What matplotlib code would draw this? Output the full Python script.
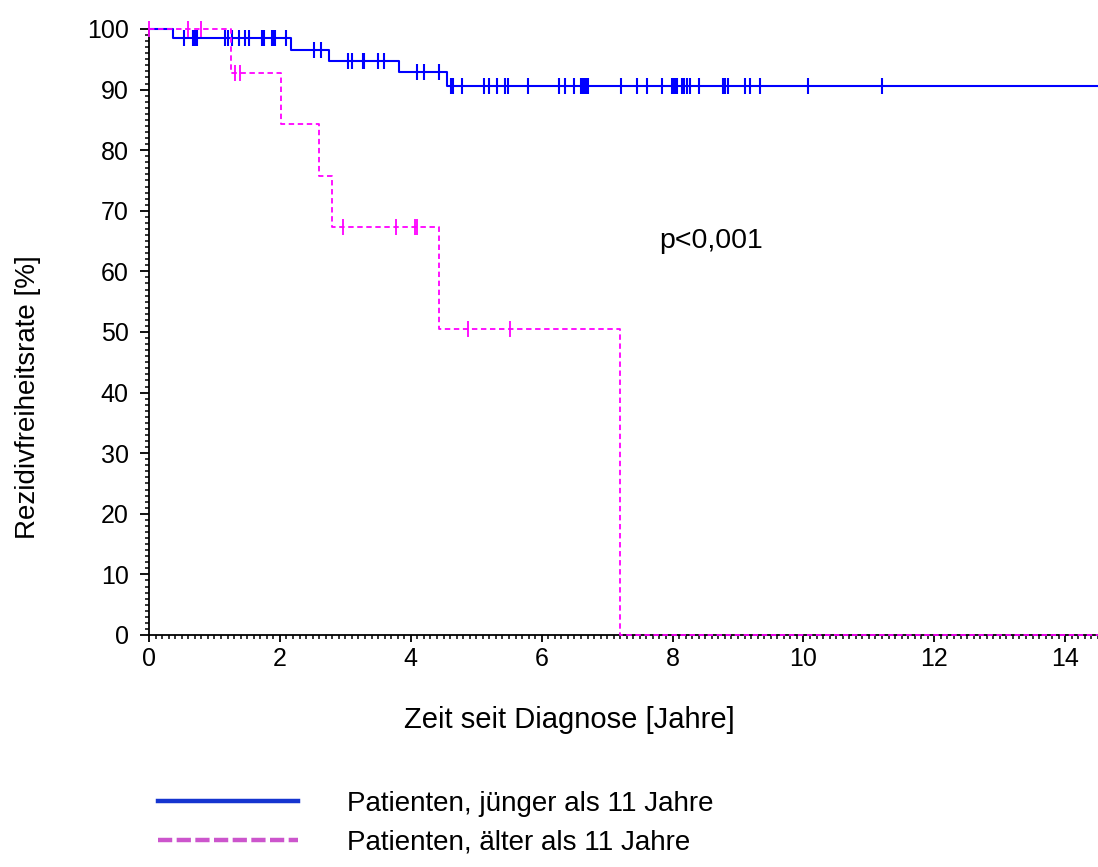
import numpy as np
import matplotlib
matplotlib.use("Agg")
import matplotlib.pyplot as plt
from matplotlib.lines import Line2D
from matplotlib.ticker import MultipleLocator

plt.rcParams['font.family'] = ['Liberation Sans', 'DejaVu Sans']

# Kaplan-Meier: Rezidivfreiheit nach Altersgruppe
young_times = [0.0, 0.36, 2.17, 2.75, 3.82, 4.55]
young_surv = [100.0, 98.5, 96.6, 94.7, 92.9, 90.6]
young_censored = [0.54, 0.67, 0.70, 0.73, 1.16, 1.20, 1.27, 1.38, 1.47, 1.53, 1.72, 1.76,
                  1.88, 1.91, 1.93, 2.09, 2.52, 2.63, 3.04, 3.10, 3.27, 3.29, 3.50, 3.59,
                  4.10, 4.20, 4.43, 4.61, 4.65, 4.79, 5.12, 5.20, 5.32, 5.44, 5.48, 5.79,
                  6.26, 6.36, 6.49, 6.60, 6.62, 6.65, 6.67, 6.70, 7.21, 7.46, 7.61, 7.84,
                  7.99, 8.02, 8.05, 8.07, 8.15, 8.18, 8.22, 8.26, 8.41, 8.77, 8.80, 8.84,
                  9.11, 9.19, 9.34, 10.07, 11.20]

old_times = [0.0, 1.26, 2.01, 2.60, 2.80, 4.43, 7.20]
old_surv = [100.0, 92.7, 84.3, 75.8, 67.4, 50.5, 0.0]
old_censored = [0.0, 0.60, 0.79, 1.32, 1.39, 2.96, 3.78, 4.06, 4.09, 4.88, 5.51]

x_max = 14.5
blue = '#0000ff'
magenta = '#ff00ff'


def surv_at(t, times, surv):
    idx = np.searchsorted(times, t, side='right') - 1
    return np.asarray(surv)[idx]


fig = plt.figure(figsize=(10.98, 8.67), dpi=100)
ax = fig.add_axes([0.1357, 0.2676, 0.8643, 0.6990])

# blue curve
ax.step(young_times + [x_max], young_surv + [young_surv[-1]], where='post',
        color=blue, lw=1.5, clip_on=False, zorder=3)
ax.plot(young_censored, surv_at(young_censored, young_times, young_surv),
        linestyle='none', marker='|', ms=11, mew=1.5, color=blue, clip_on=False, zorder=3)

# magenta curve
ax.step(old_times + [x_max], old_surv + [old_surv[-1]], where='post',
        color=magenta, lw=1.3, dashes=(3, 2), clip_on=False, zorder=4)
ax.plot(old_censored, surv_at(old_censored, old_times, old_surv),
        linestyle='none', marker='|', ms=11, mew=1.3, color=magenta, clip_on=False, zorder=4)

ax.set_xlim(0, x_max)
ax.set_ylim(0, 100)
ax.xaxis.set_major_locator(MultipleLocator(2))
ax.xaxis.set_minor_locator(MultipleLocator(0.1))
ax.yaxis.set_major_locator(MultipleLocator(10))
ax.yaxis.set_minor_locator(MultipleLocator(1))
ax.tick_params(which='major', width=1.3, labelsize=18, direction='out')
ax.tick_params(axis='x', which='major', length=5, pad=4)
ax.tick_params(axis='y', which='major', length=6.5, pad=8)
ax.tick_params(which='minor', length=3, width=1.1, direction='out')
for side in ['top', 'right']:
    ax.spines[side].set_visible(False)
for side in ['left', 'bottom']:
    ax.spines[side].set_linewidth(1.3)

ax.set_xlabel('Zeit seit Diagnose [Jahre]', fontsize=21, va='center')
ax.xaxis.set_label_coords(0.4426, -0.140)
ax.set_ylabel('Rezidivfreiheitsrate [%]', fontsize=20, va='center')
ax.yaxis.set_label_coords(-0.1275, 0.393)
ax.text(7.8, 65.0, 'p<0,001', fontsize=20.5, va='center', ha='left')

handles = [Line2D([], [], color='#1535d0', lw=3.2),
           Line2D([], [], color='#cc55cc', lw=3.2, dashes=(3.2, 1.0))]
labels = ['Patienten, jünger als 11 Jahre', 'Patienten, älter als 11 Jahre']
fig.legend(handles, labels, loc='upper left', bbox_to_anchor=(0.144, 0.0876),
           bbox_transform=fig.transFigure, frameon=False, fontsize=20,
           handlelength=5.04, handletextpad=1.76, labelspacing=0.45,
           borderpad=0, borderaxespad=0)

fig.savefig('out.png', dpi=100)
